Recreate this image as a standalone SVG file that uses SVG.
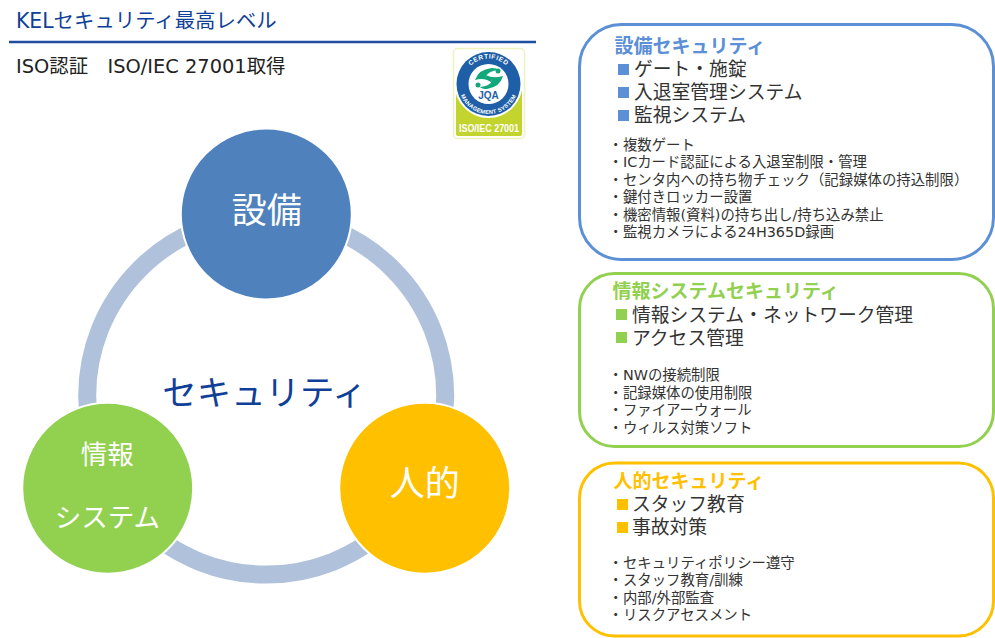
<svg xmlns="http://www.w3.org/2000/svg" width="995" height="638" viewBox="0 0 995 638">
<style>
text{font-family:"DejaVu Sans","Noto Sans CJK JP",sans-serif;}
.h{fill:#0f3f97;font-size:20.4px}
.t{fill:#222;font-size:19.400px}
.c{fill:#fff;font-size:35px;text-anchor:middle}
.n{fill:#fff;font-size:26.500px;text-anchor:middle}
.card{fill:#fff;stroke-width:3}
.title{font-size:19px;font-weight:700}
.main{fill:#333;font-size:18.800px}
.sub{fill:#333;font-size:14.400px}
.node{stroke:#fff;stroke-width:2}
.lg{font-family:"Liberation Sans",sans-serif;font-weight:700}
</style>
<defs>
<path id="arc-top" d="M463 84a25.500 25.500 0 0 1 51 0"/>
<path id="arc-bot" d="M458.500 84a30 30 0 0 0 60 0"/>
</defs>
<rect width="995" height="638" fill="#fff"/>
<g id="header">
<text class="h" x="16" y="28">KELセキュリティ最高レベル</text>
<line x1="9" y1="42" x2="536" y2="42" stroke="#1f4ea1" stroke-width="2.400"/>
<text class="t" x="16" y="73">ISO認証　ISO/IEC 27001取得</text>
</g>
<g id="logo">
<rect x="453.500" y="48.500" width="71" height="90" rx="4" fill="#fff" stroke="#eef2c0" stroke-width="1.500"/>
<path d="M456 78h66v56a2 2 0 0 1-2 2h-62a2 2 0 0 1-2-2z" fill="#c3d42f"/>
<circle cx="488.500" cy="84" r="34" fill="#fff"/>
<circle cx="488.500" cy="84" r="32" fill="#1f5fa8"/>
<circle cx="488.500" cy="84" r="20" fill="#fff"/>
<path d="M475 80q4-11 17-12q5 0 6 2q-9 1-12 6q6 2 6 7q-7-6-17-3z" fill="#13a87c"/>
<path d="M503 76q-3 11-16 13q-5 0-7-2q10-1 12-6q-5-2-6-6q7 4 17 1z" fill="#13a87c"/>
<circle cx="498" cy="71" r="2.500" fill="#13a87c"/>
<circle cx="478" cy="85" r="2.500" fill="#13a87c"/>
<text class="lg" x="488.500" y="99" font-size="10" text-anchor="middle" fill="#1f5fa8">JQA</text>
<text class="lg" font-size="6.500" fill="#fff" letter-spacing=".6"><textPath href="#arc-top" startOffset="50%" text-anchor="middle">CERTIFIED</textPath></text>
<text class="lg" font-size="5.600" fill="#fff" letter-spacing=".3"><textPath href="#arc-bot" startOffset="50%" text-anchor="middle">MANAGEMENT SYSTEM</textPath></text>
<text class="lg" x="489" y="132" font-size="11" text-anchor="middle" fill="#fff" textLength="60" lengthAdjust="spacingAndGlyphs">ISO/IEC 27001</text>
</g>
<g id="connectors">
<circle cx="266.200" cy="395.600" r="179" fill="none" stroke="#b0c1dc" stroke-width="18"/>
</g>
<g id="node-setsubi">
<circle class="node" cx="266.300" cy="214" r="85.500" fill="#4f81bd"/>
<text class="c" x="266.800" y="223">設備</text>
</g>
<g id="node-joho">
<circle class="node" cx="107.700" cy="488.300" r="85.500" fill="#92d050"/>
<text class="n" x="107.300" y="464">情報</text>
<text class="n" x="107.300" y="527">システム</text>
</g>
<g id="node-jinteki">
<circle class="node" cx="424.700" cy="488.300" r="85.500" fill="#ffc000"/>
<text class="c" x="424.700" y="496">人的</text>
</g>
<text id="center-label" x="264.500" y="405" fill="#0f3f97" font-size="34.400" text-anchor="middle">セキュリティ</text>
<g id="card-setsubi">
<rect class="card" x="579.500" y="24.500" width="414" height="235" rx="42" stroke="#5b8fd6"/>
<text class="title" x="614.500" y="53" fill="#5b8fd6">設備セキュリティ</text>
<rect x="618" y="64" width="11" height="11" fill="#5b8fd6"/>
<text class="main" x="634" y="75.500">ゲート・施錠</text>
<rect x="618" y="87" width="11" height="11" fill="#5b8fd6"/>
<text class="main" x="634" y="98.500">入退室管理システム</text>
<rect x="618" y="110" width="11" height="11" fill="#5b8fd6"/>
<text class="main" x="634" y="121.500">監視システム</text>
<text class="sub" x="608.500" y="149.500">・複数ゲート</text>
<text class="sub" x="608.500" y="167">・ICカード認証による入退室制限・管理</text>
<text class="sub" x="608.500" y="184.500">・センタ内への持ち物チェック（記録媒体の持込制限）</text>
<text class="sub" x="608.500" y="202">・鍵付きロッカー設置</text>
<text class="sub" x="608.500" y="219.500">・機密情報(資料)の持ち出し/持ち込み禁止</text>
<text class="sub" x="608.500" y="237">・監視カメラによる24H365D録画</text>
</g>
<g id="card-joho">
<rect class="card" x="579.500" y="273.500" width="414" height="173" rx="35" stroke="#92d050"/>
<text class="title" x="612.500" y="298" fill="#92d050">情報システムセキュリティ</text>
<rect x="616" y="309" width="11" height="11" fill="#92d050"/>
<text class="main" x="632" y="321.500">情報システム・ネットワーク管理</text>
<rect x="616" y="332" width="11" height="11" fill="#92d050"/>
<text class="main" x="632" y="344.500">アクセス管理</text>
<text class="sub" x="608.500" y="380">・NWの接続制限</text>
<text class="sub" x="608.500" y="398">・記録媒体の使用制限</text>
<text class="sub" x="608.500" y="415">・ファイアーウォール</text>
<text class="sub" x="608.500" y="433">・ウィルス対策ソフト</text>
</g>
<g id="card-jinteki">
<rect class="card" x="579.500" y="463" width="414" height="173" rx="35" stroke="#ffc000"/>
<text class="title" x="613.500" y="488" fill="#ffc000">人的セキュリティ</text>
<rect x="617" y="499" width="11" height="11" fill="#ffc000"/>
<text class="main" x="632" y="510.500">スタッフ教育</text>
<rect x="617" y="522" width="11" height="11" fill="#ffc000"/>
<text class="main" x="632" y="533.500">事故対策</text>
<text class="sub" x="608.500" y="568">・セキュリティポリシー遵守</text>
<text class="sub" x="608.500" y="585">・スタッフ教育/訓練</text>
<text class="sub" x="608.500" y="603">・内部/外部監査</text>
<text class="sub" x="608.500" y="620">・リスクアセスメント</text>
</g>
</svg>
